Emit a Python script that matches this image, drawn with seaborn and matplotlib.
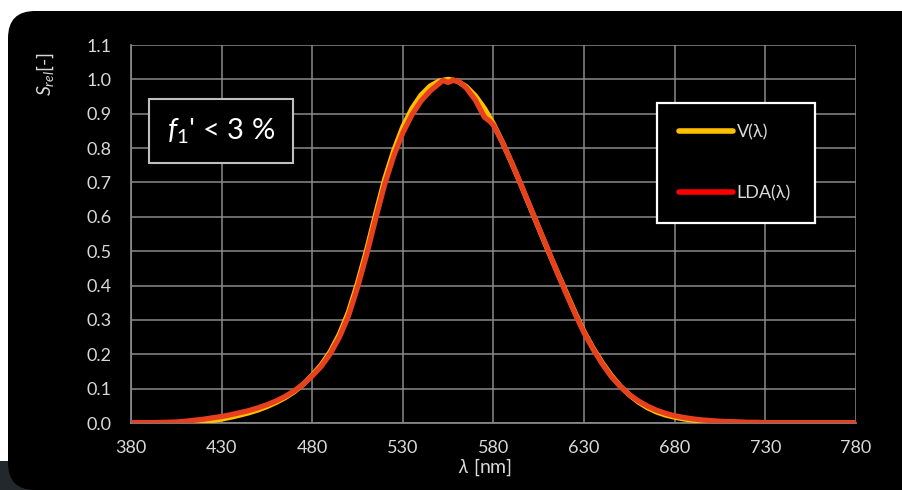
import numpy as np
import pandas as pd
import matplotlib.pyplot as plt
import seaborn as sns
from matplotlib.patches import FancyBboxPatch, Rectangle
from matplotlib.lines import Line2D

# wavelengths (nm) and relative sensitivity
wl = [380, 385, 390, 395, 400, 405, 410, 415, 420, 425, 430, 435, 440, 445, 450,
      455, 460, 465, 470, 475, 480, 485, 490, 495, 500, 505, 510, 515, 520, 525,
      530, 535, 540, 545, 550, 555, 560, 565, 570, 575, 580, 585, 590, 595, 600,
      605, 610, 615, 620, 625, 630, 635, 640, 645, 650, 655, 660, 665, 670, 675,
      680, 685, 690, 695, 700, 705, 710, 715, 720, 725, 730, 735, 740, 745, 750,
      755, 760, 765, 770, 775, 780]
v_lambda = [0.0000, 0.0001, 0.0001, 0.0002, 0.0004, 0.0006, 0.0012, 0.0022, 0.0040, 0.0073,
            0.0116, 0.0168, 0.0230, 0.0298, 0.0380, 0.0480, 0.0600, 0.0739, 0.0910, 0.1126,
            0.1390, 0.1693, 0.2080, 0.2586, 0.3230, 0.4073, 0.5030, 0.6082, 0.7100, 0.7932,
            0.8620, 0.9149, 0.9540, 0.9803, 0.9950, 1.0000, 0.9950, 0.9786, 0.9520, 0.9154,
            0.8700, 0.8163, 0.7570, 0.6949, 0.6310, 0.5668, 0.5030, 0.4412, 0.3810, 0.3210,
            0.2650, 0.2170, 0.1750, 0.1382, 0.1070, 0.0816, 0.0610, 0.0446, 0.0320, 0.0232,
            0.0170, 0.0119, 0.0082, 0.0057, 0.0041, 0.0029, 0.0021, 0.0015, 0.0010, 0.0007,
            0.0005, 0.0004, 0.0002, 0.0002, 0.0001, 0.0001, 0.0001, 0.0000, 0.0000, 0.0000,
            0.0000]

wl_lda = [380, 390, 400, 405, 410, 415, 420, 425, 430, 435, 440, 445, 450, 455, 460,
          465, 470, 475, 480, 485, 490, 495, 500, 505, 510, 515, 520, 525, 530, 535,
          540, 545, 550, 552, 555, 558, 561, 565, 570, 575, 578, 580, 585, 590, 595,
          600, 605, 610, 615, 620, 625, 630, 635, 640, 645, 650, 655, 660, 665, 670,
          675, 680, 685, 690, 695, 700, 705, 710, 715, 720, 725, 730, 740, 760, 780]
lda = [0.001, 0.001, 0.002, 0.003, 0.005, 0.008, 0.011, 0.015, 0.019, 0.024,
       0.030, 0.036, 0.044, 0.053, 0.064, 0.077, 0.093, 0.113, 0.137, 0.165,
       0.202, 0.250, 0.312, 0.395, 0.490, 0.595, 0.695, 0.778, 0.845, 0.897,
       0.937, 0.966, 0.988, 0.997, 0.991, 0.998, 0.993, 0.975, 0.940, 0.890,
       0.878, 0.866, 0.816, 0.758, 0.696, 0.632, 0.568, 0.505, 0.440, 0.378,
       0.318, 0.262, 0.215, 0.172, 0.135, 0.106, 0.082, 0.064, 0.049, 0.037,
       0.028, 0.021, 0.016, 0.012, 0.009, 0.007, 0.005, 0.004, 0.003, 0.002,
       0.002, 0.001, 0.001, 0.001, 0.001]

x_ticks = [380, 430, 480, 530, 580, 630, 680, 730, 780]
y_ticks = [0.0, 0.1, 0.2, 0.3, 0.4, 0.5, 0.6, 0.7, 0.8, 0.9, 1.0, 1.1]

df_v = pd.DataFrame({"wl": wl, "s": v_lambda})
df_lda = pd.DataFrame({"wl": wl_lda, "s": lda})

sns.set_theme(style="dark")
plt.rcParams["font.family"] = ["Lato", "DejaVu Sans"]
plt.rcParams["mathtext.fontset"] = "custom"
plt.rcParams["mathtext.rm"] = "Lato"
plt.rcParams["mathtext.it"] = "Lato:italic"

txt = "#d9d9d9"
grid = "#8a8a8a"

fig = plt.figure(figsize=(9.03, 4.9), dpi=100, facecolor="white")

# dark rounded panel behind the chart
fig.patches.append(Rectangle((0, 0), 0.04, 0.06, transform=fig.transFigure,
                             facecolor="#23282c", edgecolor="none", zorder=-2))
fig.patches.append(FancyBboxPatch((8 / 903, 0), 1.1, 1 - 11 / 490,
                                  boxstyle="round,pad=0,rounding_size=0.03",
                                  mutation_aspect=903 / 490,
                                  transform=fig.transFigure,
                                  facecolor="black", edgecolor="none", zorder=-1))

ax = fig.add_axes([131 / 903, 1 - 423 / 490, 725 / 903, 378 / 490])
ax.set_zorder(1)
ax.set_facecolor("black")

sns.lineplot(data=df_v, x="wl", y="s", ax=ax, color="#ffc000", linewidth=3.8,
             solid_capstyle="round", zorder=3)
sns.lineplot(data=df_lda, x="wl", y="s", ax=ax, color="#e8401e", linewidth=3.8,
             solid_capstyle="round", zorder=4)

ax.set_xlim(380, 780)
ax.set_ylim(0, 1.1)
ax.set_xticks(x_ticks)
ax.set_yticks(y_ticks)
ax.set_yticklabels([f"{v:.1f}" for v in y_ticks])
ax.grid(True, color=grid, linewidth=1.1)
for s in ax.spines.values():
    s.set_visible(False)
ax.spines["left"].set_visible(True)
ax.spines["bottom"].set_visible(True)
ax.spines["left"].set_color(grid)
ax.spines["bottom"].set_color(grid)
ax.tick_params(axis="both", length=0, colors=txt, labelsize=13)
ax.tick_params(axis="y", pad=14)
ax.tick_params(axis="x", pad=12)
ax.set_xlabel("")
ax.set_ylabel("")

fig.text(485 / 903, 1 - 467 / 490, r"$\lambda$ [nm]", color=txt, fontsize=14,
         ha="center", va="center")
fig.text(45 / 903, 1 - 74 / 490, r"$S_{rel}$[-]", color=txt, fontsize=14,
         rotation=90, ha="center", va="center")

# f1' annotation box
ax.text(221 / 903, 1 - 131 / 490, r"$f_1$' < 3 %", transform=fig.transFigure,
        color="white", fontsize=21, ha="center", va="center", zorder=6,
        bbox=dict(boxstyle="square,pad=0.6", facecolor="black",
                  edgecolor="#bfbfbf", linewidth=1.5))

handles = [Line2D([], [], color="#ffc000", linewidth=4, solid_capstyle="round"),
           Line2D([], [], color="#ff0000", linewidth=4, solid_capstyle="round")]
leg = ax.legend(handles, ["V(λ)", "LDA(λ)"], loc="upper left",
                bbox_to_anchor=(657 / 903, 1 - 228 / 490, 158 / 903, 125 / 490),
                bbox_transform=fig.transFigure, mode="expand",
                frameon=True, fancybox=False, facecolor="black", edgecolor="white",
                framealpha=1, fontsize=13, labelcolor=txt, handlelength=3.0,
                handletextpad=0.2, labelspacing=2.45, borderpad=1.2,
                borderaxespad=0)
leg.get_frame().set_linewidth(1.6)
leg.set_zorder(6)

fig.savefig("out.png", dpi=100, facecolor="white")
